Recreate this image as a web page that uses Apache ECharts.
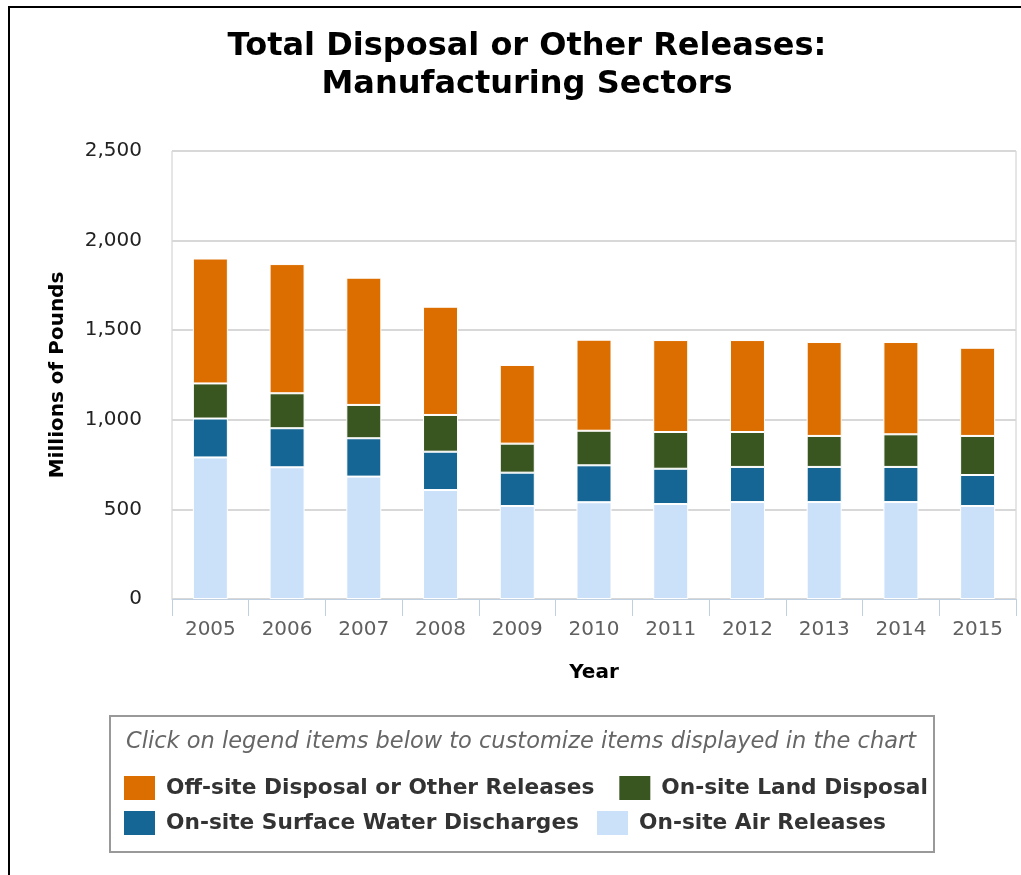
<!DOCTYPE html>
<html>
<head>
<meta charset="utf-8">
<script src="https://cdn.jsdelivr.net/npm/echarts@6/dist/echarts.min.js"></script>
<style>
  html, body { margin: 0; padding: 0; background: #fff; }
  #chart { width: 1021px; height: 875px; }
</style>
</head>
<body>
<div id="chart"></div>
<script>
// Releases from manufacturing sectors, millions of pounds
const years = ['2005', '2006', '2007', '2008', '2009', '2010', '2011', '2012', '2013', '2014', '2015'];
const airReleases      = [790, 735, 683, 608, 519, 540, 530, 541, 541, 541, 519];
const surfaceWater     = [217, 218, 214, 214, 186, 206, 197, 196, 196, 196, 173];
const landDisposal     = [196, 195, 186, 205, 162, 193, 205, 195, 173, 182, 218];
const offsiteDisposal  = [697, 721, 710, 604, 439, 508, 513, 513, 524, 515, 492];
const yTicks = { min: 0, max: 2500, step: 500 };

const FONT = 'DejaVu Sans';
const colors = {
  off: '#dc6e00',
  land: '#3a5620',
  water: '#156694',
  air: '#cbe1fa'
};

function barSeries(name, data, color) {
  return {
    name: name,
    type: 'bar',
    stack: 'total',
    barWidth: 35,
    data: data,
    itemStyle: { color: color, borderColor: '#ffffff', borderWidth: 1 },
    emphasis: { disabled: true }
  };
}

const legendText = {
  fontFamily: FONT, fontSize: 21.7, fontWeight: 'bold', color: '#333',
  padding: [0, 0, 0, 6]
};

const chart = echarts.init(document.getElementById('chart'), null, { renderer: 'canvas' });
chart.setOption({
  animation: false,
  backgroundColor: '#ffffff',
  title: {
    text: 'Total Disposal or Other Releases:\nManufacturing Sectors',
    left: 522,
    top: 23,
    textAlign: 'center',
    textStyle: {
      fontFamily: FONT,
      fontSize: 32,
      fontWeight: 'bold',
      color: '#000',
      lineHeight: 38
    }
  },
  grid: {
    left: 172,
    right: 5,
    top: 151,
    bottom: 276,
    show: true,
    borderColor: '#cccccc',
    borderWidth: 1,
    backgroundColor: 'transparent'
  },
  legend: [
    {
      data: ['Off-site Disposal or Other Releases', 'On-site Land Disposal'],
      left: 124,
      top: 776,
      padding: 0,
      orient: 'horizontal',
      icon: 'rect',
      itemWidth: 31,
      itemHeight: 24,
      itemGap: 25,
      textStyle: legendText,
      itemStyle: { borderWidth: 0 }
    },
    {
      data: ['On-site Surface Water Discharges', 'On-site Air Releases'],
      left: 124,
      top: 811,
      padding: 0,
      orient: 'horizontal',
      icon: 'rect',
      itemWidth: 31,
      itemHeight: 24,
      itemGap: 18,
      textStyle: legendText,
      itemStyle: { borderWidth: 0 }
    }
  ],
  xAxis: {
    type: 'category',
    data: years,
    name: 'Year',
    nameLocation: 'middle',
    nameGap: 64,
    nameTextStyle: { fontFamily: FONT, fontSize: 20, fontWeight: 'bold', color: '#000' },
    axisLine: { show: true, lineStyle: { color: '#c0d0e0', width: 1 } },
    axisTick: { show: true, length: 17, lineStyle: { color: '#c0d0e0', width: 1 } },
    axisLabel: { fontFamily: FONT, fontSize: 20, color: '#606060', margin: 21 }
  },
  yAxis: {
    type: 'value',
    min: yTicks.min,
    max: yTicks.max,
    interval: yTicks.step,
    name: 'Millions of Pounds',
    nameLocation: 'middle',
    nameGap: 104,
    nameTextStyle: { fontFamily: FONT, fontSize: 20, fontWeight: 'bold', color: '#000' },
    axisLine: { show: false },
    axisTick: { show: false },
    splitLine: { lineStyle: { color: '#d8d8d8', width: 2 } },
    axisLabel: {
      fontFamily: FONT,
      fontSize: 20,
      color: '#222',
      margin: 30,
      formatter: function (v) { return v.toLocaleString('en-US'); }
    }
  },
  graphic: [
    // frame edges along the top and left of the page
    { type: 'line', shape: { x1: 8, y1: 7, x2: 1021, y2: 7 }, style: { stroke: '#000', lineWidth: 2 }, silent: true },
    { type: 'line', shape: { x1: 9, y1: 6, x2: 9, y2: 875 }, style: { stroke: '#000', lineWidth: 2 }, silent: true },
    // legend box
    { type: 'rect', shape: { x: 110, y: 716, width: 824, height: 136 }, style: { fill: 'transparent', stroke: '#999', lineWidth: 2 }, silent: true, z: -1 },
    {
      type: 'text',
      left: 126,
      top: 731,
      style: {
        text: 'Click on legend items below to customize items displayed in the chart',
        fontFamily: FONT,
        fontSize: 22.5,
        fontStyle: 'italic',
        fill: '#666'
      },
      silent: true
    }
  ],
  series: [
    barSeries('On-site Air Releases', airReleases, colors.air),
    barSeries('On-site Surface Water Discharges', surfaceWater, colors.water),
    barSeries('On-site Land Disposal', landDisposal, colors.land),
    barSeries('Off-site Disposal or Other Releases', offsiteDisposal, colors.off)
  ]
});
</script>
</body>
</html>
